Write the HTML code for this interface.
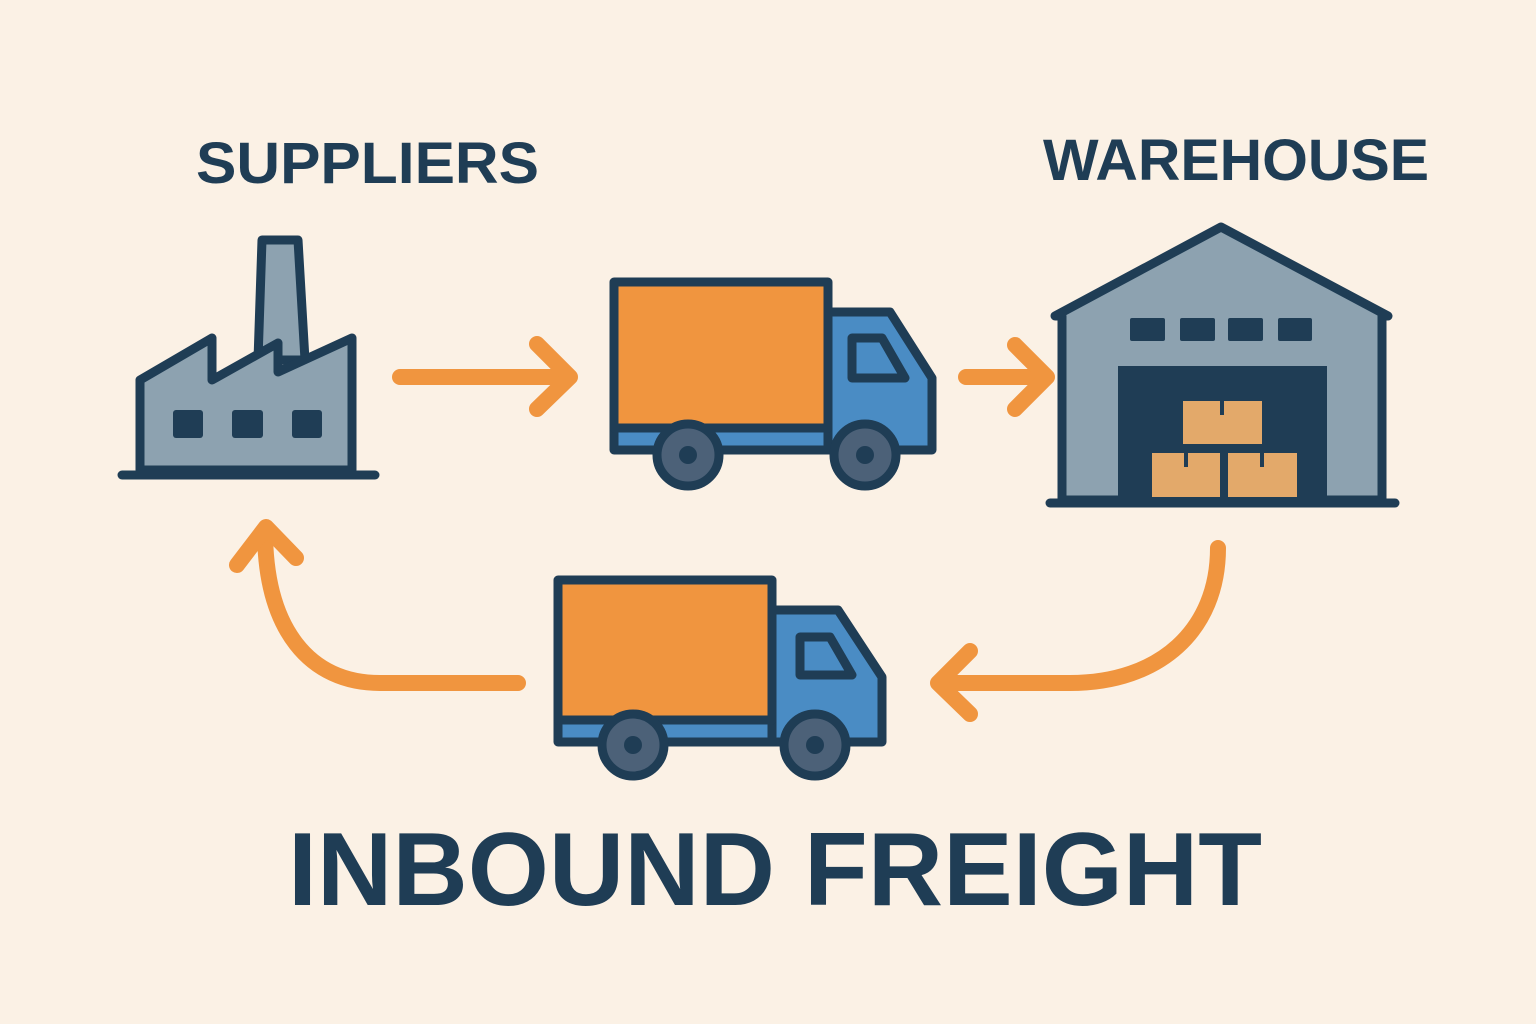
<!DOCTYPE html>
<html><head><meta charset="utf-8"><style>
html,body{margin:0;padding:0;background:#FBF1E5;}
svg{display:block;}
text{font-family:"Liberation Sans",sans-serif;font-weight:bold;fill:#1F3D55;}
</style></head><body>
<svg width="1536" height="1024" viewBox="0 0 1536 1024" xmlns="http://www.w3.org/2000/svg">
<rect width="1536" height="1024" fill="#FBF1E5"/>
<text x="196" y="183" font-size="58" textLength="343" lengthAdjust="spacingAndGlyphs">SUPPLIERS</text>
<text x="1043" y="180" font-size="58" textLength="386" lengthAdjust="spacingAndGlyphs">WAREHOUSE</text>
<text x="288" y="905" font-size="104" textLength="974" lengthAdjust="spacingAndGlyphs">INBOUND FREIGHT</text>

<g stroke="#1F3D55" stroke-width="9" stroke-linejoin="round" stroke-linecap="round">
<!-- factory -->
<path d="M262,240 L298,240 L305,360 L258,360 Z" fill="#8DA2B0"/>
<path d="M140,470 L140,380 L212,338 L212,380 L278,343 L278,372 L352,338 L352,470 Z" fill="#8DA2B0"/>
<line x1="122" y1="475" x2="375" y2="475"/>
</g>
<g fill="#1F3D55">
<rect x="173" y="410" width="30" height="28" rx="3"/>
<rect x="232" y="410" width="31" height="28" rx="3"/>
<rect x="292" y="410" width="30" height="28" rx="3"/>
</g>

<!-- truck 1 -->
<g stroke="#1F3D55" stroke-width="9" stroke-linejoin="round">
<path d="M824,312 L890,312 L932,378 L932,450 L824,450 Z" fill="#4A8CC4"/>
<path d="M852,338 L882,338 L905,378 L852,378 Z" fill="#4A8CC4"/>
<rect x="614" y="428" width="214" height="22" fill="#4A8CC4"/>
<rect x="614" y="282" width="214" height="146" fill="#F0953F"/>
<circle cx="688" cy="455" r="31" fill="#4C6178"/>
<circle cx="865" cy="455" r="31" fill="#4C6178"/>
</g>
<circle cx="688" cy="455" r="9" fill="#1F3D55"/><circle cx="865" cy="455" r="9" fill="#1F3D55"/>

<!-- truck 2 -->
<g stroke="#1F3D55" stroke-width="9" stroke-linejoin="round">
<path d="M772,610 L838,610 L882,677 L882,742 L772,742 Z" fill="#4A8CC4"/>
<path d="M800,637 L830,637 L852,675 L800,675 Z" fill="#4A8CC4"/>
<rect x="558" y="720" width="214" height="22" fill="#4A8CC4"/>
<rect x="558" y="580" width="214" height="140" fill="#F0953F"/>
<circle cx="633" cy="745" r="31" fill="#4C6178"/>
<circle cx="815" cy="745" r="31" fill="#4C6178"/>
</g>
<circle cx="633" cy="745" r="9" fill="#1F3D55"/><circle cx="815" cy="745" r="9" fill="#1F3D55"/>

<!-- warehouse -->
<g stroke="#1F3D55" stroke-width="9" stroke-linejoin="round" stroke-linecap="round">
<path d="M1055,316 L1221,227 L1388,316 L1382,316 L1382,500 L1062,500 L1062,316 Z" fill="#8DA2B0"/>
<line x1="1050" y1="503" x2="1395" y2="503"/>
</g>
<g fill="#1F3D55">
<rect x="1130" y="318" width="35" height="23" rx="2"/>
<rect x="1180" y="318" width="35" height="23" rx="2"/>
<rect x="1228" y="318" width="35" height="23" rx="2"/>
<rect x="1278" y="318" width="34" height="23" rx="2"/>
<rect x="1118" y="366" width="209" height="134"/>
</g>
<g fill="#E3A96A">
<rect x="1183" y="401" width="79" height="43"/>
<rect x="1152" y="453" width="68" height="44"/>
<rect x="1228" y="453" width="69" height="44"/>
</g>
<g stroke="#1F3D55" stroke-width="4">
<line x1="1222" y1="401" x2="1222" y2="415"/><line x1="1186" y1="453" x2="1186" y2="467"/><line x1="1262" y1="453" x2="1262" y2="467"/>
</g>

<!-- arrows -->
<g stroke="#F0953F" stroke-width="16" stroke-linecap="round" stroke-linejoin="round" fill="none">
<line x1="400" y1="377" x2="568" y2="377"/>
<polyline points="537,344 570,377 537,409"/>
<line x1="966" y1="377" x2="1045" y2="377"/>
<polyline points="1015,345 1047,377 1015,409"/>
<path d="M1218,548 C1218,630 1160,683 1070,683 L945,683"/>
<polyline points="970,651 938,683 970,714"/>
<path d="M518,683 L380,683 C310,683 265,630 265,530"/>
<polyline points="237,565 266,527 296,558"/>
</g>
</svg>
</body></html>
